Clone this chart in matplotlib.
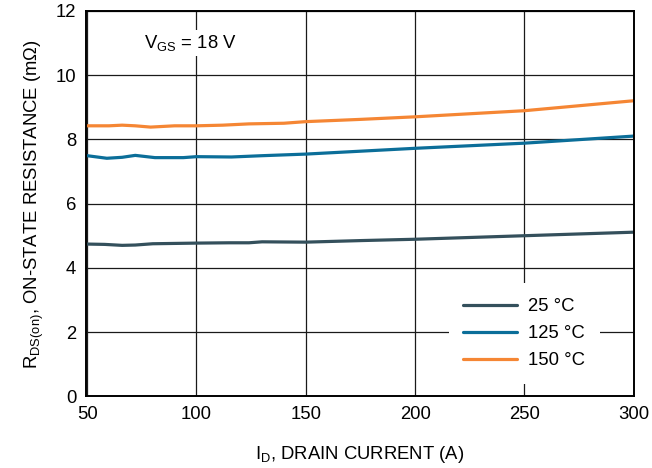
import matplotlib

matplotlib.use("Agg")
import matplotlib.pyplot as plt

plt.rcParams["font.family"] = ["Liberation Sans", "DejaVu Sans"]
plt.rcParams["mathtext.fontset"] = "custom"
plt.rcParams["mathtext.rm"] = "Liberation Sans"
plt.rcParams["mathtext.it"] = "Liberation Sans"

# drain current (A) and on-state resistance (mOhm)
id_25 = [50, 58, 66, 72, 80, 100, 115, 124, 130, 150, 176, 200, 250, 300]
r_25 = [4.74, 4.73, 4.70, 4.71, 4.75, 4.77, 4.78, 4.78, 4.81, 4.80, 4.85, 4.89, 5.00, 5.11]

id_125 = [50, 59, 66, 72, 81, 94, 100, 116, 130, 150, 175, 200, 250, 300]
r_125 = [7.49, 7.41, 7.44, 7.50, 7.43, 7.43, 7.46, 7.45, 7.49, 7.54, 7.63, 7.72, 7.88, 8.10]

id_150 = [50, 60, 66, 72, 79, 90, 100, 112, 124, 140, 150, 175, 200, 250, 300]
r_150 = [8.42, 8.42, 8.44, 8.42, 8.38, 8.42, 8.42, 8.44, 8.48, 8.50, 8.55, 8.62, 8.70, 8.89, 9.20]

series = [
    (id_25, r_25, "25 °C", "#34505C"),
    (id_125, r_125, "125 °C", "#0B6E99"),
    (id_150, r_150, "150 °C", "#F58634"),
]

xticks = [50, 100, 150, 200, 250, 300]
yticks = [0, 2, 4, 6, 8, 10, 12]

FS = 13.3

fig = plt.figure(figsize=(6.52, 4.68), dpi=100)
ax = fig.add_axes([0.132, 0.153, 0.840, 0.824])

for x, y, lab, col in series:
    ax.plot(x, y, color=col, lw=2.3, label=lab, solid_capstyle="round")

ax.set_xlim(49.5, 300)
ax.set_ylim(0, 12)
ax.set_xticks(xticks)
ax.set_yticks(yticks)
ax.grid(True, color="#1a1a1a", lw=0.9)
ax.set_axisbelow(True)
ax.tick_params(length=0, labelsize=FS, pad=7)
for s in ax.spines.values():
    s.set_linewidth(1.4)
    s.set_color("black")

ax.set_xlabel("I$_\\mathregular{D}$, DRAIN CURRENT (A)", fontsize=FS, labelpad=15)
ax.set_ylabel("R$_\\mathregular{DS(on)}$, ON-STATE RESISTANCE (m\u03a9)", fontsize=FS, labelpad=7)

ax.text(76, 11.0, "V$_\\mathregular{GS}$ = 18 V", fontsize=FS, va="center", ha="left",
        bbox=dict(facecolor="white", edgecolor="none", pad=2))

leg = ax.legend(loc="lower right", bbox_to_anchor=(0.955, 0.008), fontsize=FS,
                handlelength=2.9, handletextpad=0.6, labelspacing=0.55,
                frameon=True, fancybox=False, borderpad=0.8)
leg.get_frame().set_facecolor("white")
leg.get_frame().set_edgecolor("none")
leg.get_frame().set_alpha(1)

fig.savefig("out.png", dpi=100, facecolor="white")
plt.close(fig)
